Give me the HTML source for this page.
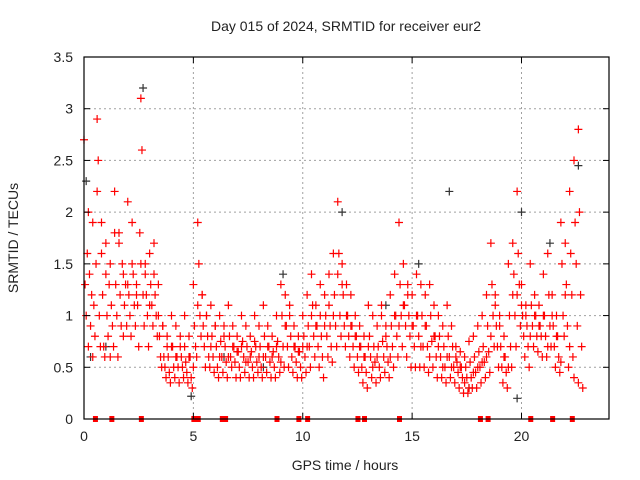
<!DOCTYPE html>
<html><head><meta charset="utf-8"><style>
body{margin:0;background:#fff;}
svg{display:block;font-family:"Liberation Sans",sans-serif;}
</style></head><body>
<svg id="chart" width="640" height="480">
<text x="346" y="31" font-size="14" text-anchor="middle" fill="#222">Day 015 of 2024, SRMTID for receiver eur2</text>
<text x="345" y="470" font-size="14" text-anchor="middle" fill="#222">GPS time / hours</text>
<text transform="translate(18,238) rotate(-90)" font-size="14" text-anchor="middle" fill="#222">SRMTID / TECUs</text>
<g id="grid"></g><g id="marks"></g><g id="axes"></g>
</svg>
<script>
const xTicks=[0,5,10,15,20];
const yTicks=[0,0.5,1,1.5,2,2.5,3,3.5];
const yTickLabels=["0","0.5","1","1.5","2","2.5","3","3.5"];
const times=[0.1,0.3,0.5,0.7,0.9,1.1,1.3,1.5,1.7,1.9,2.1,2.3,2.5,2.7,2.9,3.1,3.3,3.5,3.7,3.9,4.1,4.3,4.5,4.7,4.9,5.1,5.3,5.5,5.7,5.9,6.1,6.3,6.5,6.7,6.9,7.1,7.3,7.5,7.7,7.9,8.1,8.3,8.5,8.7,8.9,9.1,9.3,9.5,9.7,9.9,10.1,10.3,10.5,10.7,10.9,11.1,11.3,11.5,11.7,11.9,12.1,12.3,12.5,12.7,12.9,13.1,13.3,13.5,13.7,13.9,14.1,14.3,14.5,14.7,14.9,15.1,15.3,15.5,15.7,15.9,16.1,16.3,16.5,16.7,16.9,17.1,17.3,17.5,17.7,17.9,18.1,18.3,18.5,18.7,18.9,19.1,19.3,19.5,19.7,19.9,20.1,20.3,20.5,20.7,20.9,21.1,21.3,21.5,21.7,21.9,22.1,22.3,22.5,22.7];
const values=[
[2.7,1.3,1.0,1.6,0.7],[2.0,1.4,0.9,1.2,0.6],[1.9,1.1,0.8,1.5,2.2],[2.9,2.5,1.0,0.7,1.6],[1.9,1.2,0.7,0.6,1.4],
[1.7,1.0,0.8,1.3,0.6],[1.5,1.1,0.9,0.7,1.8],[2.2,1.3,1.0,0.6,1.7],[1.8,1.2,0.9,1.5,0.8],[1.4,1.1,1.3,0.9,2.1],
[1.3,1.2,1.0,0.8,1.5],[1.9,1.4,1.1,0.9,1.2],[1.3,1.1,0.7,1.8,1.5],[3.1,2.6,1.2,0.9,1.4],[1.5,1.2,1.0,0.7,1.1],
[1.6,1.3,1.1,0.9,1.4],[1.7,1.2,1.0,0.8,1.3],[1.0,0.8,0.6,0.5,0.9],[0.9,0.6,0.5,0.4,0.7],[0.8,0.6,0.45,0.35,0.7],
[1.0,0.7,0.5,0.4,0.6],[0.9,0.6,0.5,0.35,0.7],[0.8,0.6,0.5,0.4,1.0],[0.7,0.55,0.45,0.35,0.6],[0.8,0.6,0.4,0.3,0.5],
[1.3,0.9,0.7,0.6,1.1],[1.9,1.5,1.0,0.8,1.2],[1.2,0.9,0.7,0.5,1.0],[1.0,0.8,0.6,0.5,0.7],[1.1,0.8,0.6,0.45,0.9],
[0.9,0.7,0.5,0.4,0.6],[1.0,0.75,0.6,0.45,0.8],[0.9,0.7,0.55,0.4,0.6],[1.1,0.8,0.6,0.5,0.7],[0.9,0.7,0.55,0.4,0.65],
[0.8,0.65,0.5,0.4,0.7],[1.0,0.75,0.6,0.45,0.55],[0.9,0.7,0.55,0.4,0.6],[0.8,0.65,0.5,0.4,0.75],[1.0,0.7,0.55,0.45,0.6],
[0.9,0.7,0.5,0.4,0.6],[1.1,0.8,0.6,0.45,0.7],[0.9,0.7,0.55,0.4,0.6],[0.8,0.65,0.5,0.4,0.7],[1.0,0.75,0.6,0.45,0.55],
[1.3,1.0,0.7,0.5,0.9],[1.2,0.9,0.7,0.5,1.0],[1.1,0.8,0.6,0.45,0.7],[0.9,0.7,0.55,0.4,0.65],[0.8,0.65,0.5,0.4,0.7],
[1.0,0.8,0.6,0.45,0.7],[1.2,0.9,0.7,0.5,1.0],[1.4,1.1,0.8,0.6,0.9],[1.1,0.9,0.7,0.5,1.3],[1.0,0.8,0.6,0.4,0.9],
[1.2,1.0,0.8,0.6,1.4],[1.1,0.9,0.7,0.55,1.0],[1.6,1.2,0.9,0.7,1.4],[2.1,1.6,1.0,0.8,1.3],[1.5,1.2,0.9,0.7,1.0],
[1.3,1.0,0.8,0.6,0.9],[1.2,0.9,0.7,0.5,0.8],[1.0,0.8,0.6,0.45,0.7],[0.9,0.7,0.5,0.35,0.6],[0.8,0.6,0.45,0.3,0.7],
[1.1,0.8,0.6,0.4,0.5],[1.0,0.7,0.55,0.35,0.6],[0.9,0.7,0.5,0.4,1.1],[1.0,0.75,0.6,0.45,0.8],[0.9,0.7,0.55,0.4,0.6],
[1.2,0.9,0.7,0.5,1.0],[1.4,1.0,0.8,0.6,0.9],[1.9,1.3,1.0,0.7,1.1],[1.5,1.1,0.9,0.6,1.2],[1.3,1.0,0.8,0.5,0.9],
[1.2,0.9,0.7,0.5,1.0],[1.4,1.0,0.8,0.5,0.7],[1.3,1.0,0.7,0.5,0.9],[1.2,0.9,0.7,0.45,0.6],[1.3,1.0,0.75,0.5,0.8],
[1.1,0.8,0.6,0.4,0.7],[1.0,0.8,0.6,0.4,0.5],[0.9,0.7,0.5,0.35,0.6],[1.1,0.8,0.6,0.4,0.5],[0.9,0.7,0.5,0.35,0.6],
[0.7,0.55,0.45,0.3,0.5],[0.65,0.5,0.4,0.25,0.35],[0.6,0.5,0.4,0.25,0.3],[0.75,0.55,0.4,0.3,0.45],[0.8,0.6,0.45,0.3,0.5],
[0.9,0.65,0.5,0.35,0.55],[1.0,0.7,0.55,0.4,0.6],[1.2,0.9,0.65,0.45,0.8],[1.7,1.3,1.0,0.7,1.1],[1.2,0.9,0.7,0.5,1.0],
[0.9,0.7,0.5,0.35,0.6],[0.8,0.6,0.45,0.3,0.5],[1.5,1.0,0.7,0.5,1.2],[1.7,1.4,1.0,0.7,1.2],[2.2,1.6,1.3,0.9,1.1],
[1.3,1.0,0.8,0.6,1.1],[1.0,0.9,0.7,0.5,0.8],[1.5,1.1,0.9,0.7,1.0],[1.2,1.0,0.8,0.65,0.9],[1.1,0.9,0.8,0.6,1.0],
[1.4,1.0,0.8,0.6,0.7],[1.6,1.2,0.9,0.7,1.0],[1.2,0.9,0.7,0.5,0.8],[1.0,0.8,0.6,0.45,0.55],[1.9,1.5,1.0,0.8,1.2],
[1.7,1.3,0.9,0.5,0.7],[2.2,1.6,1.2,0.6,0.4],[2.5,1.9,1.5,0.9,0.35],[2.8,2.0,1.2,0.7,0.3]];
const blackTimes=[0.1,0.3,2.7,4.9,9.1,11.8,13.8,15.3,16.7,17.6,19.8,20.0,21.3,22.6,1.0,6.4,8.2];
const blackValues=[2.3,0.6,3.2,0.22,1.4,2.0,1.1,1.5,2.2,0.3,0.2,2.0,1.7,2.45,0.7,0.6,0.5];
const zeroTimes=[0.5,1.25,2.6,5.0,5.2,6.3,6.45,8.8,9.8,10.2,12.5,12.8,14.4,18.1,18.45,20.4,21.4,22.3];
const X0=84,X1=609,Y0=419,Y1=57,XMAX=24,YMAX=3.5;
const xs=v=>X0+(X1-X0)*v/XMAX, ys=v=>Y0-(Y0-Y1)*v/YMAX;
const NS='http://www.w3.org/2000/svg';
function mk(t,a,p){const e=document.createElementNS(NS,t);for(const k in a)e.setAttribute(k,a[k]);p.appendChild(e);return e;}
const grid=document.getElementById('grid'),marks=document.getElementById('marks'),axes=document.getElementById('axes');
xTicks.forEach(t=>{const x=xs(t);
 if(t>0){const g=mk('line',{x1:x,x2:x,y1:Y0,y2:Y1,stroke:'#a0a0a0','stroke-dasharray':'2,3'},grid);
 
 }
 mk('line',{x1:x,x2:x,y1:Y0,y2:Y0-6,stroke:'#000'},axes);mk('line',{x1:x,x2:x,y1:Y1,y2:Y1+6,stroke:'#000'},axes);
 const l=mk('text',{x:x,y:Y0+22,'font-size':14,'text-anchor':'middle',fill:'#222'},axes);l.textContent=String(t);
 
 });
yTicks.forEach((t,i)=>{const y=ys(t);
 if(t>0&&t<YMAX){const g=mk('line',{x1:X0,x2:X1,y1:y,y2:y,stroke:'#a0a0a0','stroke-dasharray':'2,3'},grid);
 
 }
 mk('line',{x1:X0,x2:X0+6,y1:y,y2:y,stroke:'#000'},axes);mk('line',{x1:X1,x2:X1-6,y1:y,y2:y,stroke:'#000'},axes);
 const l=mk('text',{x:X0-11,y:y+5,'font-size':14,'text-anchor':'end',fill:'#222'},axes);l.textContent=yTickLabels[i];
 
 });
const fr=mk('rect',{x:X0,y:Y1,width:X1-X0,height:Y0-Y1,fill:'none',stroke:'#000','stroke-width':1.2},axes);


function plus(x,y,c,name){const p=mk('path',{d:`M${x-4} ${y}h8M${x} ${y-4}v8`,stroke:c,'stroke-width':1.2,fill:'none'},marks);
 
 }
blackTimes.forEach((t,i)=>plus(xs(t),ys(blackValues[i]),'#333','black-point'));
times.forEach((t,i)=>values[i].forEach((v,j)=>plus(xs(t+(j-2)*0.05),ys(v),'#f00','red-point')));
zeroTimes.forEach(t=>{const r=mk('rect',{x:xs(t)-2,y:Y0-3,width:5,height:6,fill:'#f00'},marks);
 
 });
</script>
</body></html>
